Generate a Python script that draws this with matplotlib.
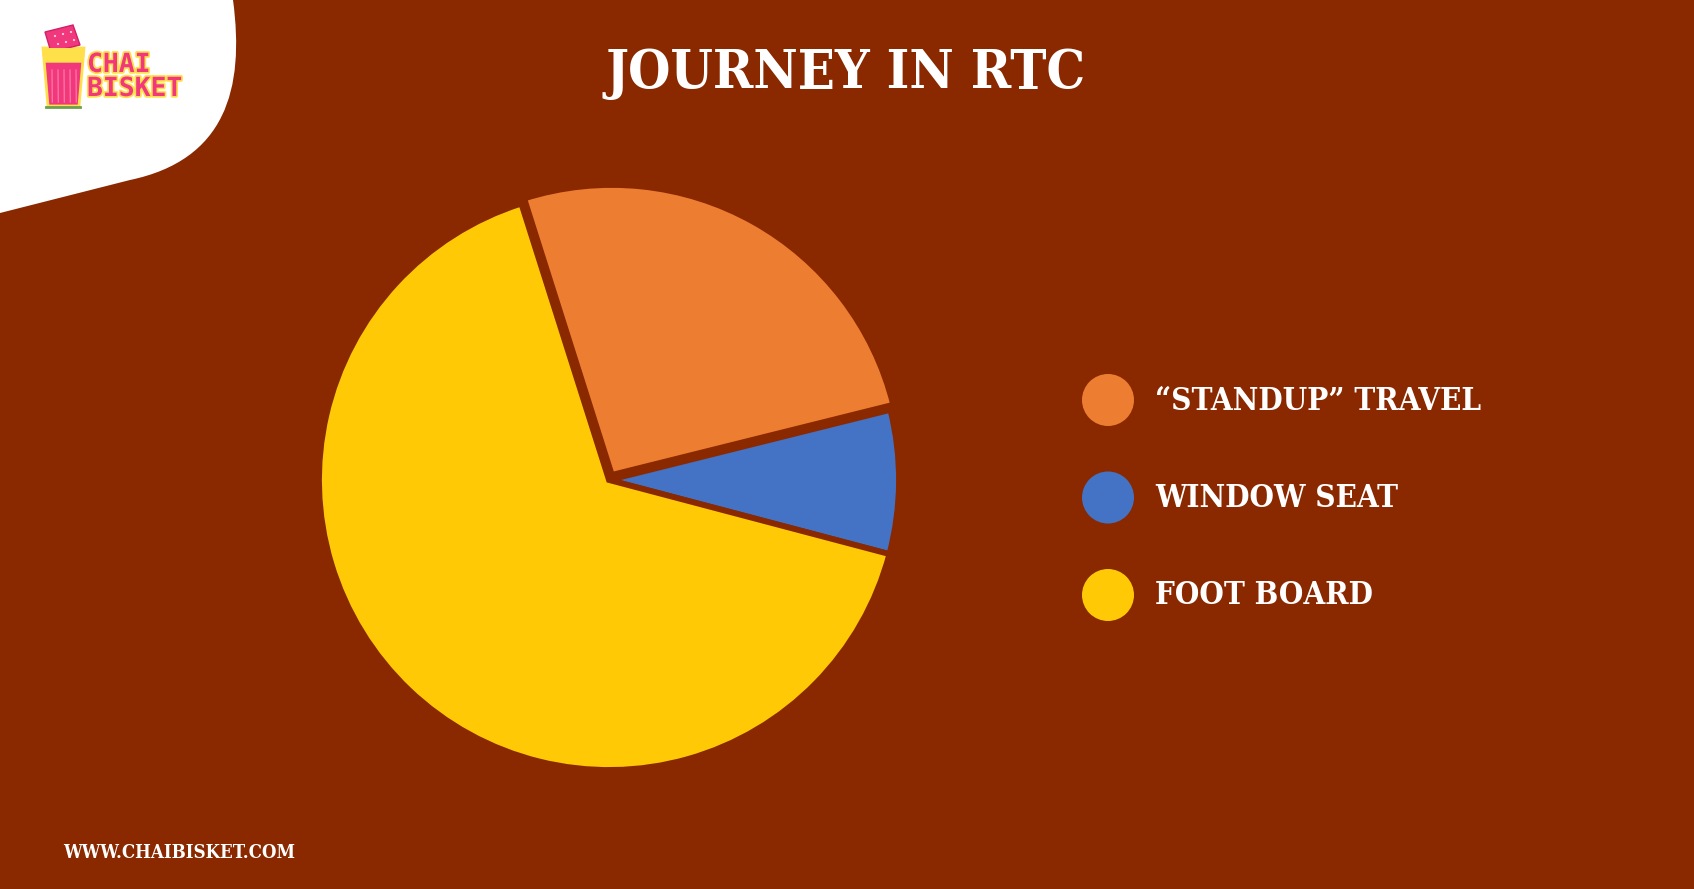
import matplotlib
matplotlib.use("Agg")
import matplotlib.pyplot as plt
from matplotlib.patches import Circle, PathPatch, Polygon
from matplotlib.path import Path
import matplotlib.patheffects as pe

W, H = 1694, 889
BG = "#8A2800"

labels = ["\u201cSTANDUP\u201d TRAVEL", "WINDOW SEAT", "FOOT BOARD"]
values = [26, 8, 66]
colors = ["#ED7D31", "#4472C4", "#FFC905"]
title = "JOURNEY IN RTC"
footer = "WWW.CHAIBISKET.COM"

SERIF = ["DejaVu Serif"]


def main():
    fig = plt.figure(figsize=(W / 100, H / 100), dpi=100)
    fig.patch.set_facecolor(BG)

    # overlay in image pixel coords (y down)
    ov = fig.add_axes([0, 0, 1, 1])
    ov.set_xlim(0, W)
    ov.set_ylim(H, 0)
    ov.axis("off")

    # white corner with logo
    verts = [(0, 0), (233, 0), (245, 90), (225, 160), (130, 180),
             (0, 213), (0, 0)]
    codes = [Path.MOVETO, Path.LINETO, Path.CURVE4, Path.CURVE4, Path.CURVE4,
             Path.LINETO, Path.CLOSEPOLY]
    ov.add_patch(PathPatch(Path(verts, codes), fc="white", ec="none"))

    pink = "#F2387C"
    yel = "#FFE04A"
    # glass
    ov.add_patch(Polygon([(43, 48), (84, 48), (79, 106), (48, 106)], closed=True,
                         fc=pink, ec=yel, lw=2))
    ov.add_patch(Polygon([(43, 48), (84, 48), (83, 62), (44, 62)], closed=True,
                         fc=yel, ec=yel, lw=1))
    for x0 in [52, 58, 64, 70, 76]:
        ov.plot([x0, x0 + 0.3], [70, 102], color="#FF80A8", lw=0.8)
    # biscuit
    ov.add_patch(Polygon([(45, 32), (73, 25), (80, 45), (51, 52)], closed=True,
                         fc=pink, ec="#D0206A", lw=1, zorder=1))
    for dx, dy in [(55, 36), (63, 34), (71, 32), (58, 44), (66, 42), (74, 40)]:
        ov.add_patch(Circle((dx, dy), 1.1, fc="#FFD0E0", ec="none", zorder=2))
    ov.add_patch(Polygon([(43, 48), (84, 48), (83, 55), (44, 55)], closed=True,
                         fc=yel, ec="none", zorder=3))
    ov.plot([46, 80], [107, 107], color="#6BA14A", lw=2)
    ov.text(87, 77, "CHAI\nBISKET", fontsize=19, fontweight="bold",
            family="DejaVu Sans Mono", color=pink, va="center", ha="left",
            linespacing=0.9,
            path_effects=[pe.withStroke(linewidth=2.5, foreground=yel)])

    # title and footer
    ov.text(846, 74, title, fontsize=39, fontweight="bold", family=SERIF,
            color="white", ha="center", va="center", fontstretch="condensed")
    ov.text(63, 853, footer, fontsize=13.3, fontweight="bold", family=SERIF,
            color="white", ha="left", va="center", fontstretch="condensed")

    # pie
    cx, cy, half = 609, 480, 300
    ax = fig.add_axes([(cx - half) / W, (H - cy - half) / H, 2 * half / W, 2 * half / H])
    ax.pie(values, colors=colors, startangle=107.6, counterclock=False, radius=1.0,
           explode=[0.02, 0, 0],
           wedgeprops=dict(edgecolor=BG, linewidth=4.2))
    lim = half / 290
    ax.set_xlim(-lim, lim)
    ax.set_ylim(-lim, lim)
    ax.axis("off")

    # legend
    for i, (lab, col) in enumerate(zip(labels, colors)):
        y = 400 + i * 97.5
        ov.add_patch(Circle((1108, y), 26, fc=col, ec="none"))
        ov.text(1155, y + 1, lab, fontsize=22.5, fontweight="bold", family=SERIF,
                color="white", ha="left", va="center", fontstretch="condensed")

    fig.savefig("out.png", dpi=100, facecolor=BG)


if __name__ == "__main__":
    main()
